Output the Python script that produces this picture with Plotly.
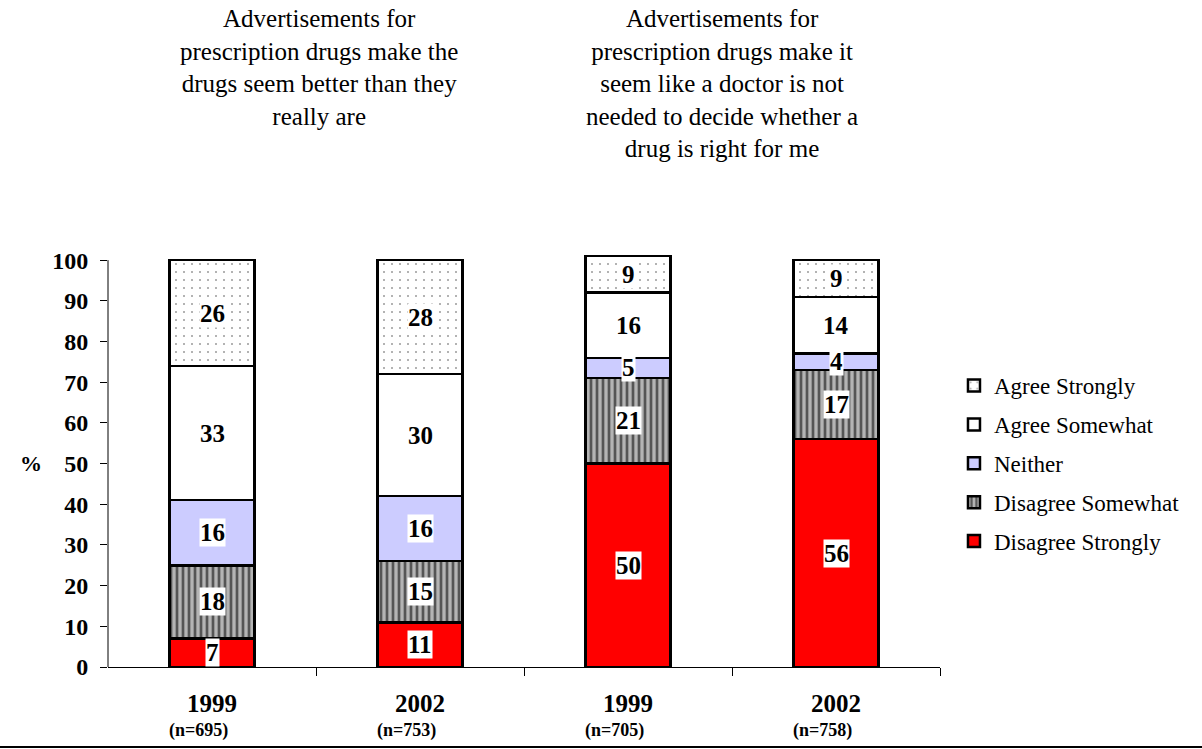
import plotly.graph_objects as go

# Survey results: share of respondents by response, two statements x two survey years
years = ["1999", "2002", "1999", "2002"]
sample_sizes = ["(n=695)", "(n=753)", "(n=705)", "(n=758)"]
statements = [
    "Advertisements for<br>prescription drugs make the<br>drugs seem better than they<br>really are",
    "Advertisements for<br>prescription drugs make it<br>seem like a doctor is not<br>needed to decide whether a<br>drug is right for me",
]

disagree_strongly = [7, 11, 50, 56]
disagree_somewhat = [18, 15, 21, 17]
neither = [16, 16, 5, 4]
agree_somewhat = [33, 30, 16, 14]
agree_strongly = [26, 28, 9, 9]

y_ticks = [0, 10, 20, 30, 40, 50, 60, 70, 80, 90, 100]

SERIF = "Liberation Serif, Times New Roman, Times, DejaVu Serif, serif"
x_pos = list(range(len(years)))

series = [
    ("Disagree Strongly", disagree_strongly,
     dict(color="#ff0000")),
    ("Disagree Somewhat", disagree_somewhat,
     dict(color="#b4b4b4", pattern=dict(shape="|", fgcolor="#555555", bgcolor="#b4b4b4",
                                        size=6, solidity=0.45, fillmode="replace"))),
    ("Neither", neither,
     dict(color="#ccccff")),
    ("Agree Somewhat", agree_somewhat,
     dict(color="#ffffff")),
    ("Agree Strongly", agree_strongly,
     dict(color="#ffffff", pattern=dict(shape=".", fgcolor="#9a9a9a", bgcolor="#ffffff",
                                        size=8, solidity=0.05, fillmode="replace"))),
]

fig = go.Figure()
for i, (name, vals, marker) in enumerate(series):
    marker = dict(marker)
    marker["line"] = dict(color="black", width=2.5)
    fig.add_trace(go.Bar(
        x=x_pos, y=vals, name=name, marker=marker, width=0.41,
        legendgroup=name, legendrank=100 - i, hoverinfo="skip",
    ))

annotations = []

# Segment value labels on white boxes
bottoms = [0] * len(years)
for name, vals, _ in series:
    for j, v in enumerate(vals):
        annotations.append(dict(
            x=x_pos[j], y=bottoms[j] + v / 2, xref="x", yref="y",
            xanchor="center", yanchor="middle",
            text=f"<b>{v}</b>", showarrow=False, bgcolor="white", borderpad=0,
            font=dict(family=SERIF, size=25, color="black"),
        ))
        bottoms[j] += v

# Category labels: year and sample size
for j in x_pos:
    annotations.append(dict(
        x=x_pos[j], y=-0.087, xref="x", yref="paper", xanchor="center", yanchor="middle",
        text=f"<b>{years[j]}</b>",
        showarrow=False, font=dict(family=SERIF, size=25, color="black"),
    ))
    annotations.append(dict(
        x=x_pos[j], y=-0.152, xref="x", yref="paper", xanchor="center", yanchor="middle",
        xshift=-14, text=f"<b>{sample_sizes[j]}</b>",
        showarrow=False, font=dict(family=SERIF, size=18, color="black"),
    ))

# Statement headings above each pair of bars
for k, (xc, shift) in enumerate([(0.5, 3), (2.5, -10)]):
    annotations.append(dict(
        x=xc, y=1.6, xref="x", yref="paper", xshift=shift, xanchor="center", yanchor="top",
        text=statements[k], showarrow=False, align="center",
        font=dict(family=SERIF, size=25, color="black"),
    ))

# Y-axis title
annotations.append(dict(
    x=-0.0925, y=50, xref="paper", yref="y", xanchor="center", yanchor="middle",
    text="<b>%</b>", showarrow=False,
    font=dict(family=SERIF, size=22, color="black"),
))

shapes = [
    # y axis line from 0 to 100
    dict(type="line", xref="paper", yref="y", x0=0, x1=0, y0=0, y1=100,
         line=dict(color="black", width=1)),
    # rule along the bottom of the page
    dict(type="line", xref="paper", yref="paper", x0=-108 / 832, x1=1094 / 832,
         y0=-80 / 415, y1=-80 / 415, line=dict(color="black", width=2)),
]

fig.update_layout(
    width=1202, height=749,
    margin=dict(l=108, r=262, t=252, b=82),
    paper_bgcolor="white", plot_bgcolor="white",
    barmode="stack", bargap=0.59,
    showlegend=True,
    legend=dict(
        x=1.0168, y=0.73, xanchor="left", yanchor="top",
        traceorder="grouped", tracegroupgap=6,
        font=dict(family=SERIF, size=23, color="black"),
        bgcolor="rgba(0,0,0,0)", itemclick=False, itemdoubleclick=False,
    ),
    xaxis=dict(
        range=[-0.5, 3.5], showgrid=False, zeroline=False,
        showline=True, linecolor="black", linewidth=1,
        tickmode="array", tickvals=[0.5, 1.5, 2.5, 3.5],
        ticks="outside", ticklen=8, tickcolor="black", tickwidth=1,
        showticklabels=False,
    ),
    yaxis=dict(
        range=[0, 102], showgrid=False, zeroline=False, showline=False,
        tickmode="array", tickvals=y_ticks, ticktext=[str(t) for t in y_ticks],
        ticks="outside", ticklen=7, tickcolor="black", tickwidth=1,
        tickfont=dict(family=SERIF, size=24, color="black", weight="bold"),
        ticklabelstandoff=7,
    ),
    annotations=annotations,
    shapes=shapes,
    font=dict(family=SERIF, color="black"),
)

fig.write_html("out.html")
